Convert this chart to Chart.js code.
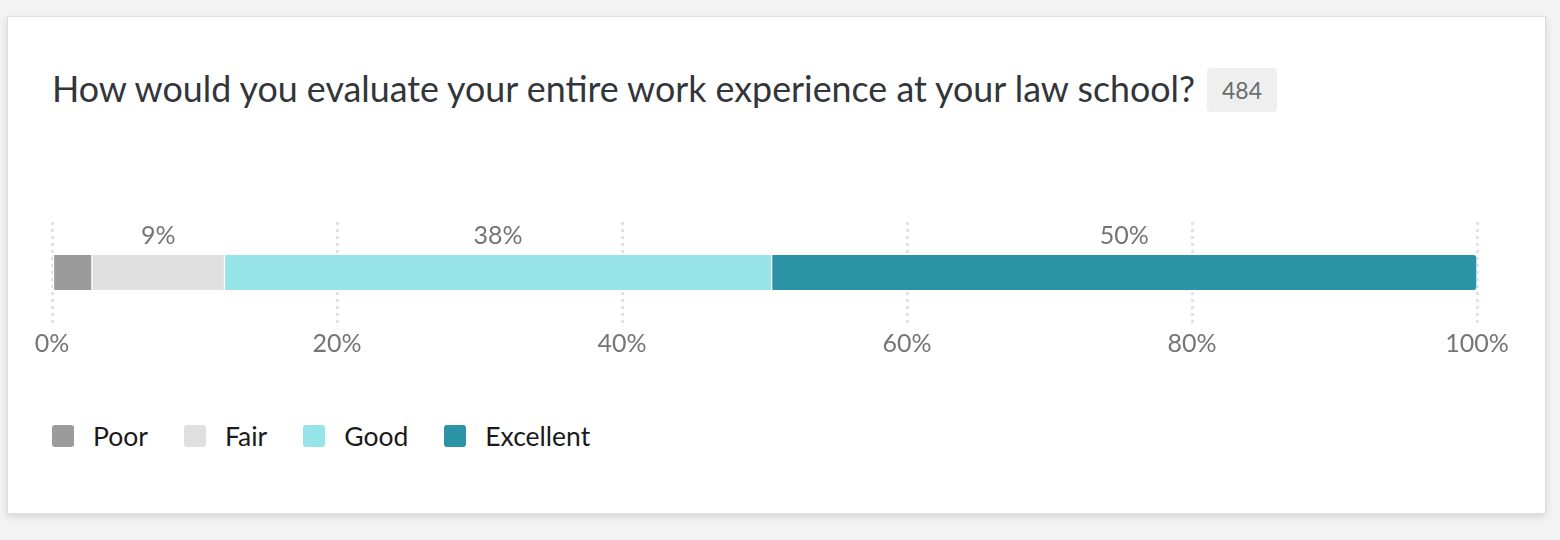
<!DOCTYPE html>
<html>
<head>
<meta charset="utf-8">
<script src="https://cdn.jsdelivr.net/npm/chart.js@4.4.1/dist/chart.umd.min.js"></script>
<style>
html,body{margin:0;padding:0;background:#f3f3f3;width:1560px;height:540px;overflow:hidden;font-family:Lato,"Open Sans",sans-serif}
#card{position:absolute;left:7px;top:16px;width:1537px;height:496px;background:#fff;border:1px solid #dcdcdc;box-shadow:0 3px 8px rgba(0,0,0,0.12)}
#title{position:absolute;left:52px;top:66px;font-size:35.8px;line-height:46px;color:#32363a;white-space:nowrap}
#badge{position:absolute;left:1207px;top:68px;width:70px;height:44px;line-height:44px;text-align:center;background:#efefef;border-radius:4px;font-size:23px;color:#6a6d70}
#wrap{position:absolute;left:0;top:190px;width:1560px;height:190px}
#legend{position:absolute;left:52px;top:420px;display:flex;align-items:center;height:32px}
.item{display:flex;align-items:center;margin-right:36px;font-size:26.5px;color:#1a1a1a}
.box{width:22px;height:22px;border-radius:3px;margin-right:19px}
</style>
</head>
<body>
<div id="card"></div>
<div id="title">How would you evaluate your entire work experience at your law school?</div>
<div id="badge">484</div>
<div id="wrap"><canvas id="chart"></canvas></div>
<div id="legend"></div>
<script>
const categories=["Poor","Fair","Good","Excellent"]
const percents=[2.8,9.3,38.4,49.5]
const colors=["#9b9b9b","#e0e0e0","#96e3e8","#2a93a5"]
const tickValues=[0,20,40,60,80,100]

const datasets=categories.map((c,i)=>({
label:c,
data:[percents[i]],
backgroundColor:colors[i],
borderColor:"#ffffff",
borderWidth:{left:1,right:1,top:0,bottom:0},
borderSkipped:false,
borderRadius:i===categories.length-1?{topRight:4,bottomRight:4}:0,
barThickness:35
}))

// percent labels above each segment, small ones are left out
const segmentLabels={
id:"segmentLabels",
afterDatasetsDraw(chart){
const ctx=chart.ctx
ctx.save()
ctx.font="25px Lato"
ctx.fillStyle="#757575"
ctx.textAlign="center"
ctx.textBaseline="bottom"
chart.data.datasets.forEach((ds,i)=>{
const v=ds.data[0]
if(v<5) return
const bar=chart.getDatasetMeta(i).data[0]
const cx=(bar.x+bar.base)/2
ctx.fillText(Math.round(v)+"%",cx,bar.y-bar.height/2-7)
})
ctx.restore()
}
}

new Chart(document.getElementById("chart"),{
type:"bar",
data:{labels:["All"],datasets:datasets},
options:{
indexAxis:"y",
responsive:true,
maintainAspectRatio:false,
animation:false,
layout:{padding:{left:52,right:83,top:32,bottom:17}},
plugins:{legend:{display:false},tooltip:{enabled:false}},
scales:{
x:{
stacked:true,
min:0,
max:100,
afterBuildTicks(scale){scale.ticks=tickValues.map(v=>({value:v}))},
afterFit(scale){scale.height=40},
border:{display:false,dash:[3,4]},
grid:{color:"#e2e2e2",lineWidth:3,drawTicks:false},
ticks:{padding:6,color:"#757575",font:{family:"Lato",size:25},callback:v=>v+"%"}
},
y:{stacked:true,display:false}
}
},
plugins:[segmentLabels]
})

const legend=document.getElementById("legend")
categories.forEach((c,i)=>{
const item=document.createElement("div")
item.className="item"
item.innerHTML=`<span class="box" style="background:${colors[i]}"></span><span>${c}</span>`
legend.appendChild(item)
})
</script>
</body>
</html>
